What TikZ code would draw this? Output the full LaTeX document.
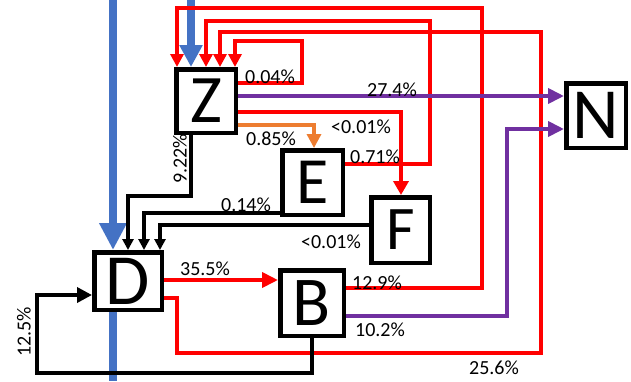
\documentclass[tikz,border=0pt]{standalone}
\usepackage{fontspec}
\setmainfont{Carlito}
\usetikzlibrary{arrows.meta,calc}
\definecolor{myred}{RGB}{255,0,0}
\definecolor{mypurple}{RGB}{112,48,160}
\definecolor{myorange}{RGB}{237,125,49}
\definecolor{myblue}{RGB}{68,114,196}
\begin{document}
\begin{tikzpicture}[x=1pt,y=-1pt,
 box/.style={draw=black, fill=white, line width=4.5pt, inner sep=0pt},
 lbl/.style={font=\fontsize{20}{20}\selectfont, inner sep=0pt},
 redl/.style={draw=myred, line width=3.8pt, -{Triangle[length=13pt,width=13pt]}},
 purl/.style={draw=mypurple, line width=3.8pt, -{Triangle[length=16pt,width=15pt]}},
 orl/.style={draw=myorange, line width=3.3pt, -{Triangle[length=14pt,width=14pt]}},
 blkl/.style={draw=black, line width=3.5pt, -{Triangle[length=11pt,width=11pt]}},
 blul/.style={draw=myblue, line width=7.5pt}
]
\useasboundingbox (0,0) rectangle (631,381);
% boxes
\node[box, minimum width=59.5pt, minimum height=63.5pt, font=\fontsize{68}{68}\selectfont] (Z) at (206,101) {Z};
\node[box, minimum width=60.5pt, minimum height=64.5pt, font=\fontsize{66}{66}\selectfont] (E) at (312.5,182.5) {E};
\node[box, minimum width=58.5pt, minimum height=65.5pt, font=\fontsize{62}{62}\selectfont] (F) at (400.5,230) {F};
\node[box, minimum width=67.5pt, minimum height=57.5pt, font=\fontsize{72}{72}\selectfont] (D) at (128,281) {D};
\node[box, minimum width=63.5pt, minimum height=65.5pt, font=\fontsize{70}{70}\selectfont] (B) at (312,303) {B};
\node[box, minimum width=59.5pt, minimum height=64.5pt, font=\fontsize{72}{72}\selectfont] (N) at (596,115.5) {N};
% blue flows
\draw[blul, -{Triangle[length=27pt,width=26pt]}] (113,0) -- (113,0 |- D.north);
\draw[blul] (113,0 |- D.south) -- (113,381);
\draw[blul, -{Triangle[length=22pt,width=22pt]}] (191,0) -- (191,0 |- Z.north);
% red loops into Z
\draw[redl] (B.east |- 0,288) -- (482,288) -- (482,8) -- (177,8) -- (177,0 |- Z.north);
\draw[redl] (E.east |- 0,164) -- (430,164) -- (430,21) -- (206,21) -- (206,0 |- Z.north);
\draw[redl] (D.east |- 0,298) -- (177,298) -- (177,353) -- (541,353) -- (541,32) -- (220,32) -- (220,0 |- Z.north);
\draw[redl] (Z.east |- 0,83) -- (302,83) -- (302,41) -- (235,41) -- (235,0 |- Z.north);
% purple to N
\draw[purl] (Z.east |- 0,96) -- (N.west |- 0,96);
\draw[purl] (B.east |- 0,316) -- (507,316) -- (507,129) -- (N.west |- 0,129);
% Z to F, Z to E
\draw[redl, -{Triangle[length=14pt,width=15pt]}] (Z.east |- 0,112) -- (401,112) -- (401,0 |- F.north);
\draw[orl] (Z.east |- 0,125) -- (314,125) -- (314,0 |- E.north);
% D to B
\draw[redl, -{Triangle[length=16pt,width=15pt]}] (D.east |- 0,280) -- (B.west |- 0,280);
% black into D
\draw[blkl] (191,0 |- Z.south) -- (191,196) -- (128,196) -- (128,0 |- D.north);
\draw[blkl] (E.west |- 0,213) -- (144,213) -- (144,0 |- D.north);
\draw[blkl] (F.west |- 0,225) -- (160,225) -- (160,0 |- D.north);
\draw[blkl, -{Triangle[length=15pt,width=15pt]}] (312,0 |- B.south) -- (312,373) -- (37,373) -- (37,295) -- (D.west |- 0,295);
% labels
\node[lbl] (l1) at (270,77) {0.04\%};
\node[lbl] (l2) at (392,90) {27.4\%};
\node[lbl] (l3) at (361,127) {<0.01\%};
\node[lbl] (l4) at (271,139) {0.85\%};
\node[lbl] (l5) at (375,157) {0.71\%};
\node[lbl, rotate=90] (l6) at (180,159) {9.22\%};
\node[lbl] (l7) at (246,205) {0.14\%};
\node[lbl] (l8) at (331,242) {<0.01\%};
\node[lbl] (l9) at (205,269) {35.5\%};
\node[lbl] (l10) at (377,283) {12.9\%};
\node[lbl] (l11) at (380,330) {10.2\%};
\node[lbl] (l12) at (494,368) {25.6\%};
\node[lbl, rotate=90] (l13) at (24,332) {12.5\%};
\end{tikzpicture}
\end{document}
